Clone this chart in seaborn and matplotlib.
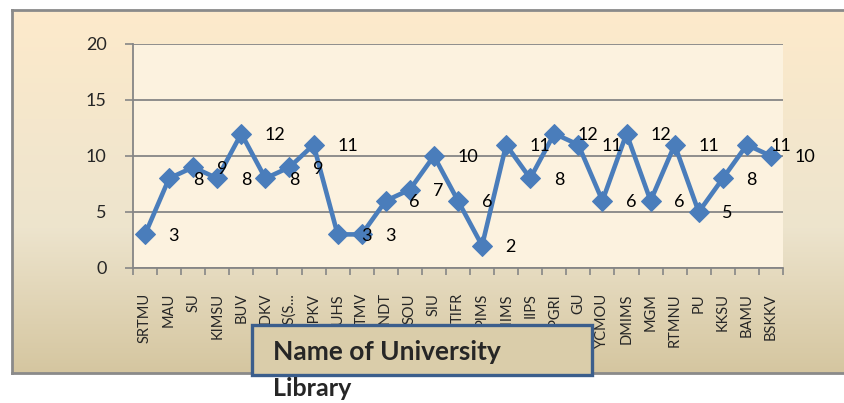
import numpy as np
import pandas as pd
import matplotlib
matplotlib.use("Agg")
import matplotlib.pyplot as plt
import seaborn as sns
from matplotlib.patches import Rectangle
from matplotlib.colors import LinearSegmentedColormap

# data
universities = ["SRTMU", "MAU", "SU", "KIMSU", "BUV", "PDKV", "TISS(S...", "MPKV",
                "MUHS", "TMV", "SNDT", "SOU", "SIU", "TIFR", "PIMS", "NMIMS", "IIPS",
                "DCPGRI", "GU", "YCMOU", "DMIMS", "MGM", "RTMNU", "PU", "KKSU",
                "BAMU", "BSKKV"]
counts = [3, 8, 9, 8, 12, 8, 9, 11, 3, 3, 6, 7, 10, 6, 2, 11, 8, 12, 11, 6,
          12, 6, 11, 5, 8, 11, 10]
y_ticks = [0, 5, 10, 15, 20]

sns.set_style("white")
plt.rcParams['font.family'] = ['Lato', 'DejaVu Sans']

W, H = 845, 403
fig = plt.figure(figsize=(W / 100, H / 100), dpi=100)
fig.patch.set_facecolor("white")

def box(x0, y0, x1, y1):
    # pixel box (top-left origin) -> figure fraction
    return [x0 / W, 1 - y1 / H, (x1 - x0) / W, (y1 - y0) / H]

# outer chart area with a vertical gradient
bg = fig.add_axes(box(12, 10, 850, 373), zorder=-5)
cmap = LinearSegmentedColormap.from_list(
    "bg", [(0.0, "#fdeacb"), (0.6, "#ede4cd"), (1.0, "#d5c6a0")])
bg.imshow(np.linspace(0, 1, 256).reshape(-1, 1), aspect="auto", cmap=cmap,
          extent=[0, 1, 0, 1])
bg.set_xticks([])
bg.set_yticks([])
for s in bg.spines.values():
    s.set_color("#8a8a8a")
    s.set_linewidth(2)

# plot area
ax = fig.add_axes(box(133, 44, 783, 268))
ax.set_facecolor("#fcf2df")

df = pd.DataFrame({"university": universities, "count": counts})
df["pos"] = range(len(df))
sns.lineplot(data=df, x="pos", y="count", ax=ax, color="#4a7dbb", linewidth=3.3,
             marker="D", markersize=10, markeredgecolor="#4a7dbb", sort=False,
             zorder=3)

for i, v in enumerate(counts):
    ax.annotate(str(v), (i, v), xytext=(17, -1), textcoords="offset points",
                ha="left", va="center", fontsize=13, color="black", zorder=4)

ax.set_xlim(-0.5, len(universities) - 0.5)
ax.set_ylim(0, 20)
ax.set_yticks(y_ticks)
ax.set_xticks(range(len(universities)))
ax.set_xticklabels(universities, rotation=90, fontsize=10.5)
ax.set_xticks(np.arange(-0.5, len(universities)), minor=True)
ax.tick_params(axis="x", which="major", length=0, pad=18)
ax.tick_params(axis="x", which="minor", length=5, color="#868686", width=1.2,
               direction="out", bottom=True)
ax.tick_params(axis="y", length=6, color="#868686", width=1.2, direction="out",
               left=True, pad=13, labelsize=13)
ax.yaxis.grid(True, color="#868686", linewidth=1.3)
ax.set_axisbelow(True)
ax.set_xlabel("")
ax.set_ylabel("")
for side in ["top", "right"]:
    ax.spines[side].set_visible(False)
for side in ["left", "bottom"]:
    ax.spines[side].set_color("#868686")
    ax.spines[side].set_linewidth(1.3)

# axis title box
x0, y0, x1, y1 = 252, 325, 592, 375
fig.patches.append(Rectangle((x0 / W, 1 - y1 / H), (x1 - x0) / W, (y1 - y0) / H,
                             transform=fig.transFigure, facecolor="#dacdaa",
                             edgecolor="#3b5e8c", linewidth=2.4, zorder=5))
fig.text(273 / W, 1 - 352 / H, "Name of University", fontsize=19, fontweight="bold",
         ha="left", va="center", zorder=6)
fig.text(273 / W, 1 - 396 / H, "Library", fontsize=18, fontweight="bold",
         ha="left", va="baseline", zorder=6)

fig.savefig("out.png", dpi=100)
